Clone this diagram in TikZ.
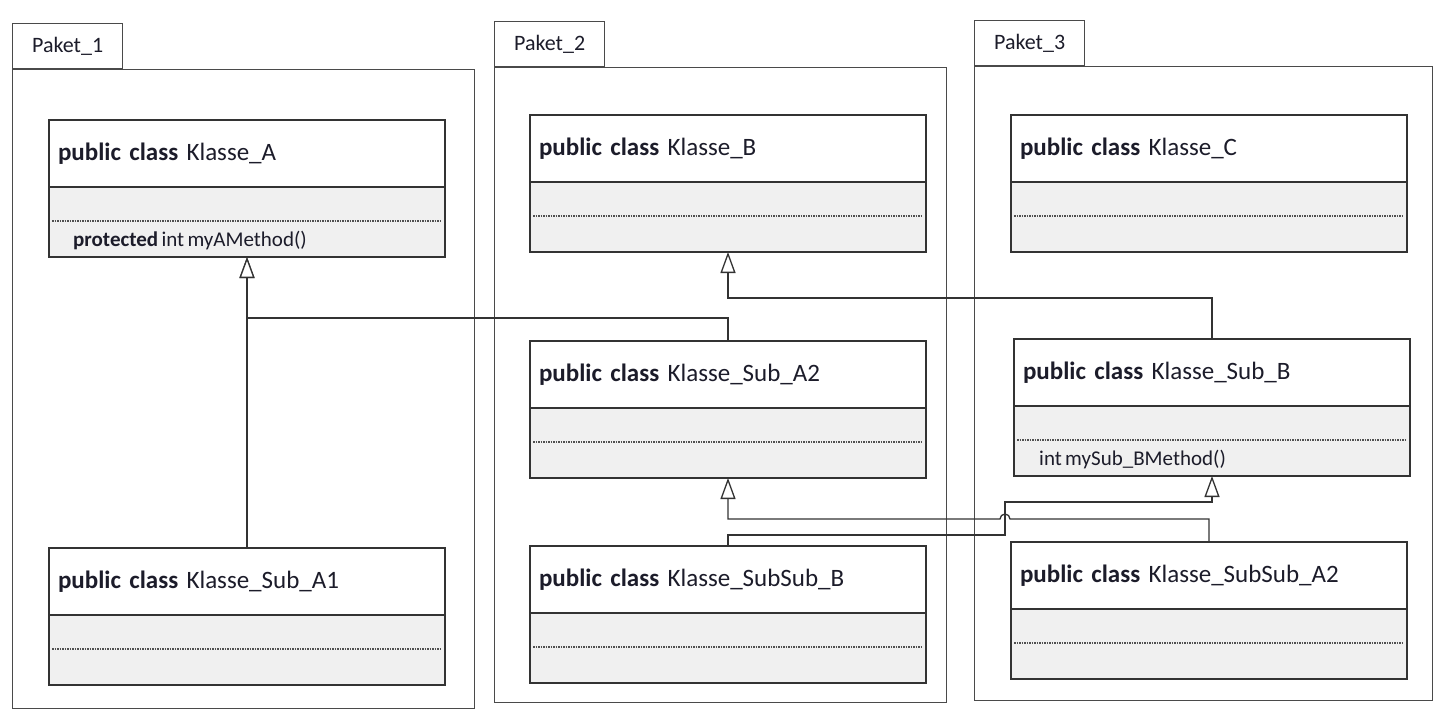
\documentclass[tikz,border=0pt]{standalone}
\usepackage{fontspec}
\setmainfont{Carlito}[WordSpace=0.7]
\usetikzlibrary{positioning,arrows.meta,calc}

\definecolor{rahmen}{HTML}{333333}
\definecolor{paketrand}{HTML}{4A4A4A}
\definecolor{rumpfgrau}{HTML}{F0F0F0}
\definecolor{punktgrau}{HTML}{505050}
\definecolor{schrift}{HTML}{1C1C2A}

\tikzset{
	paket/.style={draw=paketrand,line width=1.3pt,anchor=north west,inner sep=0pt},
	reiter/.style={draw=paketrand,line width=1.3pt,minimum width=110,minimum height=45,inner sep=0pt,text=schrift,font=\fontsize{22}{26}\selectfont},
	kopf/.style={draw=rahmen,line width=1.3pt,fill=white,anchor=north west,outer sep=0pt,minimum height=67,inner xsep=9pt,inner ysep=0pt,text width=378pt,align=left,text=schrift,font=\fontsize{25}{30}\selectfont},
	rumpf/.style={draw=rahmen,line width=1.3pt,fill=rumpfgrau,outer sep=0pt,minimum width=396,minimum height=70,inner sep=0pt},
	punkte/.style={draw=punktgrau,line width=1.2pt,dash pattern=on 1.5pt off 1pt},
	methode/.style={anchor=west,inner sep=0pt,text=schrift,font=\fontsize{21}{25}\selectfont},
	erbt/.style={draw=rahmen,line width=1.3pt,-{Triangle[length=21pt,width=15pt,fill=white,line width=1.3pt]}}
}

\begin{document}
\begin{tikzpicture}[x=1pt,y=-1pt]
		\useasboundingbox (0,0) rectangle (1450,716);
		
		% Pakete
		\node[paket,minimum width=462,minimum height=639] (p1) at (12,69) {};
		\node[reiter,above right=0pt of p1.north west] (p1r) {Paket\_1};
		\node[paket,minimum width=452,minimum height=635] (p2) at (494,67) {};
		\node[reiter,above right=0pt of p2.north west] (p2r) {Paket\_2};
		\node[paket,minimum width=458,minimum height=634] (p3) at (974,66) {};
		\node[reiter,above right=0pt of p3.north west] (p3r) {Paket\_3};
		
		% Paket_1
		\node[kopf] (kA) at (49,120) {\textbf{public class} Klasse\_A};
		\node[rumpf,below=0pt of kA] (kAr) {};
		\draw[punkte] ($(kAr.north west)+(3,34)$) -- ($(kAr.north east)+(-3,34)$);
		\node[methode] (mA) at ($(kAr.north west)+(24,54)$) {\textbf{protected} int myAMethod()};
		
		\node[kopf] (kSubA1) at (49,548) {\textbf{public class} Klasse\_Sub\_A1};
		\node[rumpf,below=0pt of kSubA1] (kSubA1r) {};
		\draw[punkte] ($(kSubA1r.north west)+(3,34)$) -- ($(kSubA1r.north east)+(-3,34)$);
		
		% Paket_2
		\node[kopf] (kB) at (530,115) {\textbf{public class} Klasse\_B};
		\node[rumpf,below=0pt of kB] (kBr) {};
		\draw[punkte] ($(kBr.north west)+(3,34)$) -- ($(kBr.north east)+(-3,34)$);
		
		\node[kopf] (kSubA2) at (530,341) {\textbf{public class} Klasse\_Sub\_A2};
		\node[rumpf,below=0pt of kSubA2] (kSubA2r) {};
		\draw[punkte] ($(kSubA2r.north west)+(3,34)$) -- ($(kSubA2r.north east)+(-3,34)$);
		
		\node[kopf] (kSubSubB) at (530,546) {\textbf{public class} Klasse\_SubSub\_B};
		\node[rumpf,below=0pt of kSubSubB] (kSubSubBr) {};
		\draw[punkte] ($(kSubSubBr.north west)+(3,34)$) -- ($(kSubSubBr.north east)+(-3,34)$);
		
		% Paket_3
		\node[kopf] (kC) at (1011,115) {\textbf{public class} Klasse\_C};
		\node[rumpf,below=0pt of kC] (kCr) {};
		\draw[punkte] ($(kCr.north west)+(3,34)$) -- ($(kCr.north east)+(-3,34)$);
		
		\node[kopf] (kSubB) at (1014,339) {\textbf{public class} Klasse\_Sub\_B};
		\node[rumpf,below=0pt of kSubB] (kSubBr) {};
		\draw[punkte] ($(kSubBr.north west)+(3,34)$) -- ($(kSubBr.north east)+(-3,34)$);
		\node[methode] (mSubB) at ($(kSubBr.north west)+(25,53)$) {int mySub\_BMethod()};
		
		\node[kopf] (kSubSubA2) at (1011,542) {\textbf{public class} Klasse\_SubSub\_A2};
		\node[rumpf,below=0pt of kSubSubA2] (kSubSubA2r) {};
		\draw[punkte] ($(kSubSubA2r.north west)+(3,34)$) -- ($(kSubSubA2r.north east)+(-3,34)$);
		
		% Vererbung
		\draw[erbt] (kSubA1.north) -- (kAr.south);
		\draw[erbt] (kSubA2.north) -- ++(0,-23) -| (kAr.south);
		\draw[erbt] (kSubB.north) -- ++(0,-41) -| (kBr.south);
		\draw[erbt] (kSubSubB.north) -- ++(0,-11) -- ++(277,0) -- ++(0,-33) -| (kSubBr.south);
		\draw[erbt] (kSubSubA2.north) -- ++(0,-23) -- ++(-199,0) arc[start angle=0,end angle=-180,radius=5] -| (kSubA2r.south);
	\end{tikzpicture}
\end{document}
